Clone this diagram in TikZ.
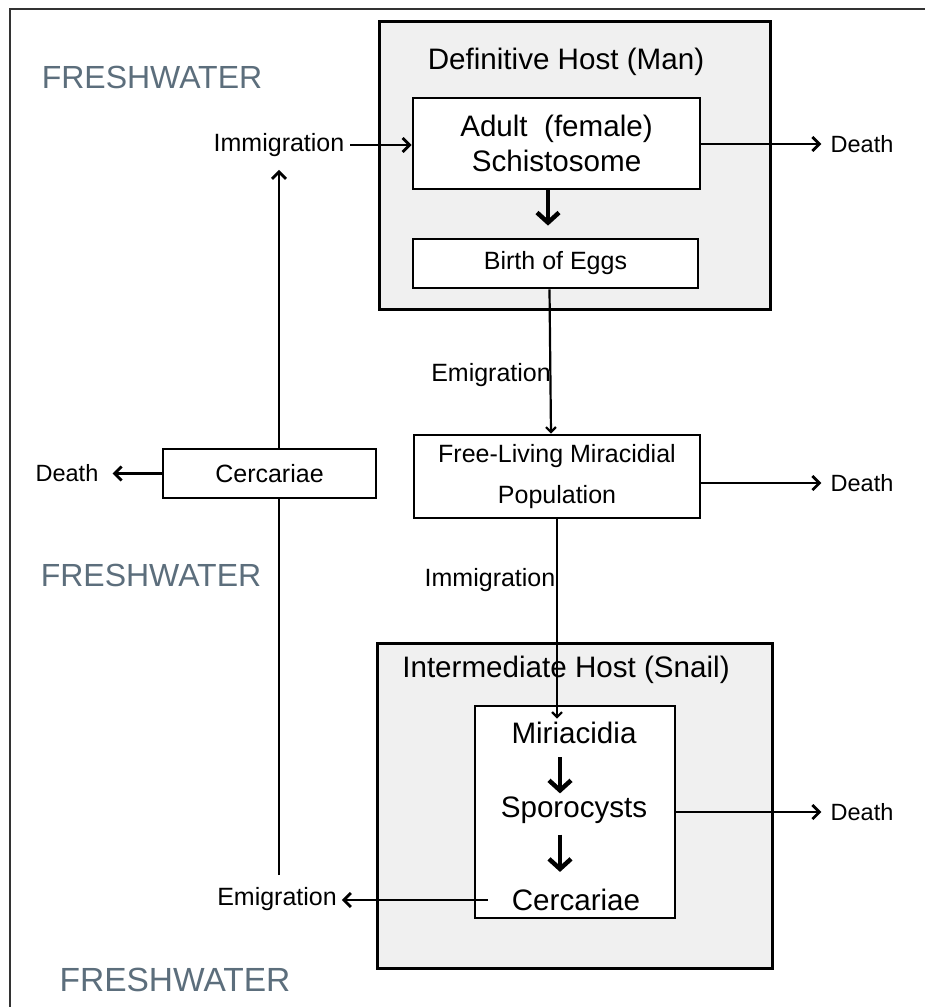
\documentclass[tikz,border=0pt]{standalone}
\usepackage{fontspec}
\setmainfont{Liberation Sans}
\usetikzlibrary{arrows.meta,calc}
\definecolor{hostgray}{RGB}{240,240,240}
\definecolor{fresh}{RGB}{92,110,124}
\tikzset{
  hostbox/.style={draw=black, line width=3pt, fill=hostgray, inner sep=0pt},
  stagebox/.style={draw=black, line width=2.8pt, fill=white, inner sep=0pt, align=center},
  conn/.style={line width=2.8pt, -{Straight Barb[length=7pt,width=14pt]}},
  thinconn/.style={line width=2.2pt, -{Straight Barb[length=5pt,width=10pt]}},
  bigarrow/.style={line width=4.5pt, -{Straight Barb[length=10pt,width=22pt]}},
  lab/.style={font=\fontsize{25}{30}\selectfont, inner sep=0pt},
  deathlab/.style={font=\fontsize{23.5}{28}\selectfont, inner sep=0pt},
  big/.style={font=\fontsize{29.6}{35}\selectfont, inner sep=0pt},
  fw/.style={text=fresh, font=\fontsize{32}{36}\selectfont, inner sep=0pt},
}
\begin{document}
\begin{tikzpicture}[x=1pt,y=-1pt]
\useasboundingbox (0,0) rectangle (925,1007);
\fill[white] (0,0) rectangle (925,1007);
\draw[line width=1.5pt, black!80] (925,9) -- (10,9) -- (10,1007);

% freshwater labels
\node[fw] (fw1) at (152,77) {FRESHWATER};
\node[fw] (fw2) at (151,575) {FRESHWATER};
\node[fw, font=\fontsize{33.5}{38}\selectfont] (fw3) at (175,980) {FRESHWATER};

% definitive host
\node[hostbox, minimum width=391pt, minimum height=288pt] (defhost) at (574.5,165) {};
\node[big] (deflab) at (566,62) {Definitive Host (Man)};
\node[stagebox, big, minimum width=287pt, minimum height=91pt] (adult) at (556.5,143.5) {Adult\ \ (female)\\Schistosome};
\node[stagebox, lab, minimum width=285pt, minimum height=49pt] (birth) at (555.5,263.5) {Birth of Eggs};
\draw[bigarrow] ([xshift=-8.5pt]adult.south) -- ([xshift=-7.5pt,yshift=12pt]birth.north);

% free-living miracidia
\node[stagebox, minimum width=286pt, minimum height=83pt, font=\fontsize{25}{41}\selectfont] (free) at (557,476.5) {Free-Living Miracidial\\Population};
\draw[thinconn] ([xshift=-6pt]birth.south) -- ([xshift=-6pt]free.north);
\node[lab] (emig1) at (491,375) {Emigration};

% intermediate host
\node[hostbox, minimum width=395pt, minimum height=325pt] (inthost) at (574.5,805.5) {};
\node[big] (intlab) at (566,670) {Intermediate Host (Snail)};
\node[stagebox, minimum width=200pt, minimum height=212pt] (inner) at (575,812) {};
\node[big] (mir) at (574,733) {Miriacidia};
\node[big] (spo) at (574,810) {Sporocysts};
\node[big] (cerin) at (576,900) {Cercariae};
\draw[bigarrow] ([xshift=-14pt,yshift=-13pt]mir.south) -- ([xshift=-14pt,yshift=3pt]spo.north);
\draw[bigarrow] ([xshift=-14pt,yshift=-11pt]spo.south) -- ([xshift=-16pt,yshift=17pt]cerin.north);
\draw[thinconn] (free.south) -- ([xshift=-18pt,yshift=-14pt]inner.north);
\node[lab] (immig2) at (490,580) {Immigration};

% deaths on the right
\node[deathlab] (death1) at (862,144) {Death};
\node[deathlab] (death2) at (862,483) {Death};
\node[deathlab] (death3) at (862,812) {Death};
\draw[conn, shorten >=9pt] (adult.east |- death1.west) -- (death1.west);
\draw[conn, shorten >=9pt] (free.east |- death2.west) -- (death2.west);
\draw[conn, shorten >=9pt] (inner.east |- death3.west) -- (death3.west);

% cercariae loop
\node[lab] (emig2) at (277,899) {Emigration};
\node[lab] (immig1) at (279,145) {Immigration};
\draw[conn, shorten >=5pt] ([xshift=-24pt]cerin.west) -- (emig2.east |- cerin.west);
\draw[conn, shorten >=13pt] ([yshift=12pt]immig1.south |- emig2.north) -- (immig1.south);
\draw[conn, shorten <=6pt] (immig1.east) -- (adult.west |- immig1.east);
\node[stagebox, lab, minimum width=213pt, minimum height=49pt] (cerout) at (269.5,473.5) {Cercariae};
\node[deathlab] (death4) at (67,473.5) {Death};
\draw[conn, shorten >=14pt] (cerout.west) -- (death4.east);
\end{tikzpicture}
\end{document}
